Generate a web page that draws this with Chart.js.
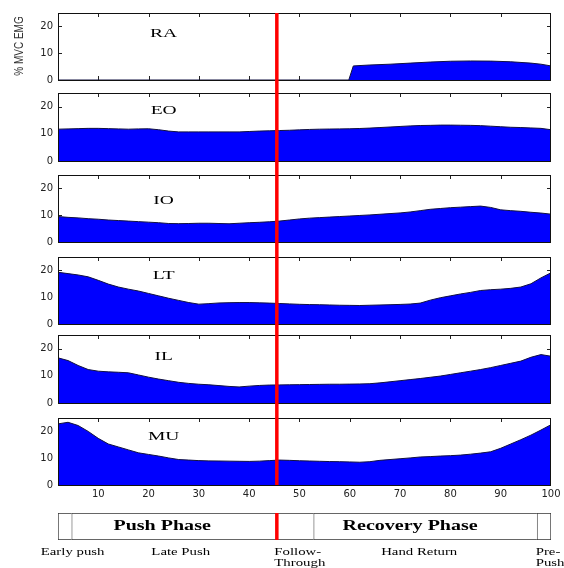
<!DOCTYPE html>
<html>
<head>
<meta charset="utf-8">
<script src="https://cdn.jsdelivr.net/npm/chart.js@4.4.0/dist/chart.umd.min.js"></script>
<style>
  body { margin: 0; background: #fff; }
  #wrap { position: relative; width: 564px; height: 568px; }
  #wrap canvas { position: absolute; left: 0; }
</style>
</head>
<body>
<div id="wrap"></div>
<script>
// % of push cycle (shared by EO..MU)
const pct = [2, 4, 6, 8, 10, 12, 14, 16, 18, 20, 22, 24, 26, 28, 30, 32, 34, 36, 38, 40,
  42, 44, 46, 48, 50, 52, 54, 56, 58, 60, 62, 64, 66, 68, 70, 72, 74, 76, 78, 80,
  82, 84, 86, 88, 90, 92, 94, 96, 98, 100];

// RA is silent until ~60%, so it gets its own x values
const raPct = [2, 59.8, 60.7, 64, 68, 72, 76, 80, 84, 88, 92, 96, 98, 100];
const raEmg = [0, 0, 5.25, 5.6, 5.9, 6.3, 6.7, 7.0, 7.1, 7.05, 6.8, 6.3, 5.9, 5.25];

const eoEmg = [11.7, 11.8, 11.9, 12.0, 12.0, 11.9, 11.8, 11.7, 11.8, 11.85,
  11.5, 11.0, 10.7, 10.7, 10.7, 10.7, 10.7, 10.7, 10.7, 10.85,
  11.0, 11.1, 11.2, 11.3, 11.45, 11.6, 11.7, 11.75, 11.8, 11.85,
  11.95, 12.1, 12.3, 12.5, 12.7, 12.9, 13.05, 13.1, 13.2, 13.2,
  13.15, 13.1, 13.0, 12.8, 12.6, 12.4, 12.3, 12.15, 12.0, 11.5];

const ioEmg = [9.5, 9.2, 9.0, 8.7, 8.5, 8.2, 8.0, 7.8, 7.6, 7.4,
  7.2, 6.9, 6.85, 6.9, 7.0, 7.0, 6.9, 6.8, 7.0, 7.2,
  7.35, 7.55, 7.8, 8.2, 8.6, 8.9, 9.1, 9.3, 9.5, 9.7,
  9.9, 10.1, 10.35, 10.6, 10.85, 11.2, 11.7, 12.2, 12.5, 12.8,
  13.0, 13.2, 13.4, 12.9, 12.0, 11.7, 11.45, 11.1, 10.8, 10.4];

const ltEmg = [19.3, 18.8, 18.3, 17.6, 16.3, 14.9, 13.8, 13.0, 12.3, 11.4,
  10.5, 9.6, 8.8, 8.0, 7.4, 7.6, 7.85, 7.95, 8.0, 8.0,
  7.9, 7.8, 7.65, 7.5, 7.35, 7.25, 7.2, 7.1, 7.0, 6.95,
  6.9, 7.0, 7.1, 7.2, 7.3, 7.45, 7.8, 8.9, 9.8, 10.5,
  11.2, 11.8, 12.5, 12.8, 13.0, 13.3, 13.8, 15.0, 17.2, 19.1];

const ilEmg = [16.6, 15.6, 13.8, 12.3, 11.7, 11.45, 11.3, 11.1, 10.3, 9.5,
  8.8, 8.2, 7.6, 7.2, 6.9, 6.7, 6.4, 6.1, 5.9, 6.2,
  6.45, 6.6, 6.65, 6.7, 6.75, 6.8, 6.85, 6.9, 6.9, 6.95,
  7.0, 7.1, 7.4, 7.8, 8.2, 8.6, 9.0, 9.45, 9.9, 10.5,
  11.1, 11.7, 12.3, 13.0, 13.8, 14.6, 15.4, 16.8, 17.8, 17.2];

const muEmg = [22.8, 23.4, 22.2, 20.0, 17.4, 15.3, 14.2, 13.1, 12.0, 11.4,
  10.8, 10.1, 9.5, 9.3, 9.1, 9.0, 8.95, 8.9, 8.85, 8.8,
  8.9, 9.1, 9.3, 9.2, 9.05, 8.95, 8.85, 8.75, 8.7, 8.6,
  8.5, 8.7, 9.2, 9.5, 9.8, 10.1, 10.45, 10.6, 10.8, 10.95,
  11.15, 11.5, 11.9, 12.4, 13.7, 15.3, 16.9, 18.6, 20.5, 22.5];

const xTicks = [10, 20, 30, 40, 50, 60, 70, 80, 90, 100];
const yTicks = [0, 10, 20];
const pushEnd = 45.5;   // red line: end of push

// phase bar
const phaseBounds = [2, 4.7, 45.5, 52.8, 97.2, 100];
const phaseNames = ['Push Phase', 'Recovery Phase'];
const subPhases = ['Early push', 'Late Push', 'Follow-|Through', 'Hand Return', 'Pre-|Push'];

const wrap = document.getElementById('wrap');

function makeCanvas(top, h) {
  const c = document.createElement('canvas');
  c.width = 564; c.height = h;
  c.style.top = top + 'px';
  c.style.width = '564px'; c.style.height = h + 'px';
  wrap.appendChild(c);
  return c;
}

// stretched serif text, the original figure was exported wide
function wideText(ctx, txt, x, y, font, sx, align) {
  ctx.save();
  ctx.font = font;
  ctx.fillStyle = '#000';
  ctx.textAlign = align || 'center';
  ctx.textBaseline = 'middle';
  ctx.translate(x, y);
  ctx.scale(sx, 1);
  ctx.fillText(txt, 0, 0);
  ctx.restore();
}

const panelPlugin = {
  id: 'panel',
  beforeDatasetsDraw(chart) {
    const { ctx, chartArea: a, scales } = chart;
    ctx.save();
    ctx.strokeStyle = '#222';
    ctx.lineWidth = 1;
    ctx.beginPath();
    xTicks.slice(0, -1).forEach(v => {
      const px = Math.round(scales.x.getPixelForValue(v)) + 0.5;
      ctx.moveTo(px, a.top); ctx.lineTo(px, a.top + 4);
      ctx.moveTo(px, a.bottom); ctx.lineTo(px, a.bottom - 4);
    });
    yTicks.slice(1).forEach(v => {
      const py = Math.round(scales.y.getPixelForValue(v)) + 0.5;
      ctx.moveTo(a.left, py); ctx.lineTo(a.left + 4, py);
      ctx.moveTo(a.right, py); ctx.lineTo(a.right - 4, py);
    });
    ctx.stroke();
    ctx.restore();
  },
  afterDatasetsDraw(chart, args, opts) {
    const { ctx, chartArea: a, scales } = chart;
    ctx.save();
    ctx.strokeStyle = '#111';
    ctx.lineWidth = 1;
    ctx.strokeRect(Math.round(a.left) + 0.5, Math.round(a.top) + 0.5,
      Math.round(a.right - a.left) - 1, Math.round(a.bottom - a.top));
    // red push/recovery divider, runs through the gaps too
    const rx = scales.x.getPixelForValue(pushEnd);
    const y0 = opts.first ? a.top : 0;
    const y1 = opts.last ? a.bottom : chart.height;
    ctx.strokeStyle = '#ff0000';
    ctx.lineWidth = 3.5;
    ctx.beginPath();
    ctx.moveTo(rx, y0); ctx.lineTo(rx, y1);
    ctx.stroke();
    ctx.restore();
    wideText(ctx, opts.name, scales.x.getPixelForValue(23), scales.y.getPixelForValue(opts.labelY),
      '13px "Liberation Serif"', 1.5);
    if (opts.first) {
      ctx.save();
      ctx.fillStyle = '#333';
      ctx.font = '10px "Liberation Sans"';
      ctx.textAlign = 'center';
      ctx.textBaseline = 'middle';
      ctx.translate(19, 46);
      ctx.rotate(-Math.PI / 2);
      ctx.scale(1, 1.3);
      ctx.fillText('% MVC EMG', 0, 0);
      ctx.restore();
    }
  }
};

const panels = [
  { name: 'RA', xs: raPct, ys: raEmg, top: 0, h: 87, padTop: 13, padBottom: 7, labelY: 17.2 },
  { name: 'EO', xs: pct, ys: eoEmg, top: 87, h: 81, padTop: 6, padBottom: 7, labelY: 18.4 },
  { name: 'IO', xs: pct, ys: ioEmg, top: 168, h: 82, padTop: 7, padBottom: 8, labelY: 15.4 },
  { name: 'LT', xs: pct, ys: ltEmg, top: 250, h: 80, padTop: 7, padBottom: 6, labelY: 18 },
  { name: 'IL', xs: pct, ys: ilEmg, top: 330, h: 81, padTop: 5, padBottom: 8, labelY: 17.2 },
  { name: 'MU', xs: pct, ys: muEmg, top: 411, h: 94, padTop: 7, padBottom: 2, labelY: 18 }
];

const tickFont = { family: '"DejaVu Sans"', size: 10, lineHeight: 1 };

panels.forEach((p, i) => {
  const isLast = i === panels.length - 1;
  new Chart(makeCanvas(p.top, p.h), {
    type: 'line',
    data: {
      datasets: [{
        data: p.xs.map((x, j) => ({ x: x, y: p.ys[j] })),
        fill: 'origin',
        backgroundColor: '#0000ff',
        borderColor: '#101040',
        borderWidth: 1,
        pointRadius: 0,
        tension: 0
      }]
    },
    options: {
      responsive: false,
      animation: false,
      layout: { padding: { left: 0, right: 13, top: p.padTop, bottom: p.padBottom } },
      scales: {
        x: {
          type: 'linear', min: 2, max: 100,
          display: isLast,
          grid: { display: false, drawTicks: false },
          border: { display: false },
          ticks: { stepSize: 10, includeBounds: false, padding: 4, maxRotation: 0, color: '#222', font: tickFont },
          afterFit(scale) { scale.paddingLeft = 0; scale.paddingRight = 0; }
        },
        y: {
          min: 0, max: 25,
          grid: { display: false, drawTicks: false },
          border: { display: false },
          ticks: { stepSize: 10, includeBounds: false, padding: 5, color: '#222', font: tickFont },
          afterFit(scale) {
            scale.width = 58;
            scale.paddingTop = 0;
            scale.paddingBottom = 0;
          }
        }
      },
      plugins: {
        legend: { display: false },
        tooltip: { enabled: false },
        panel: { name: p.name, labelY: p.labelY, first: i === 0, last: isLast }
      }
    },
    plugins: [panelPlugin]
  });
});

// phase bar under the panels
const phasePlugin = {
  id: 'phases',
  afterDatasetsDraw(chart) {
    const { ctx, chartArea: a, scales } = chart;
    const x = v => scales.x.getPixelForValue(v);
    const rx = x(pushEnd);
    ctx.save();
    ctx.strokeStyle = '#ff0000';
    ctx.lineWidth = 3.5;
    ctx.beginPath();
    ctx.moveTo(rx, a.top); ctx.lineTo(rx, a.bottom);
    ctx.stroke();
    ctx.restore();
    const mid = (a.top + a.bottom) / 2;
    const big = 'bold 14px "Liberation Serif"';
    wideText(ctx, phaseNames[0], x(22.7), mid, big, 1.43);
    wideText(ctx, phaseNames[1], x(72), mid, big, 1.43);
    const small = '10px "Liberation Serif"';
    const l1 = a.bottom + 12.5, l2 = a.bottom + 23.5;
    wideText(ctx, subPhases[0], x(4.9), l1, small, 1.48);
    wideText(ctx, subPhases[1], x(26.4), l1, small, 1.48);
    const ft = subPhases[2].split('|');
    wideText(ctx, ft[0], x(45.0), l1, small, 1.48, 'left');
    wideText(ctx, ft[1], x(45.0), l2, small, 1.48, 'left');
    wideText(ctx, subPhases[3], x(73.8), l1, small, 1.48);
    const pp = subPhases[4].split('|');
    wideText(ctx, pp[0], x(96.95), l1, small, 1.48, 'left');
    wideText(ctx, pp[1], x(96.95), l2, small, 1.48, 'left');
  }
};

const segCount = phaseBounds.length - 1;
new Chart(makeCanvas(505, 63), {
  type: 'bar',
  data: {
    labels: ['phase'],
    datasets: phaseBounds.slice(1).map((end, i) => ({
      data: [[phaseBounds[i], end]],
      backgroundColor: '#ffffff',
      borderColor: '#333',
      borderWidth: { top: 1, bottom: 1, left: 1, right: i === segCount - 1 ? 1 : 0 },
      borderSkipped: false,
      barPercentage: 1,
      categoryPercentage: 1,
      grouped: false
    }))
  },
  options: {
    indexAxis: 'y',
    responsive: false,
    animation: false,
    layout: { padding: { left: 58, right: 13, top: 8, bottom: 28 } },
    scales: {
      x: { type: 'linear', min: 2, max: 100, display: false },
      y: { display: false }
    },
    plugins: { legend: { display: false }, tooltip: { enabled: false } }
  },
  plugins: [phasePlugin]
});
</script>
</body>
</html>
